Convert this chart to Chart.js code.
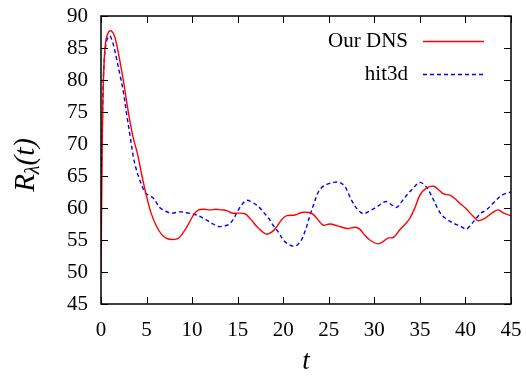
<!DOCTYPE html>
<html>
<head>
<meta charset="utf-8">
<script src="https://cdn.jsdelivr.net/npm/chart.js@4.4.0/dist/chart.umd.min.js"></script>
<style>
  html, body { margin: 0; padding: 0; background: #fff; }
  #wrap { width: 526px; height: 376px; }
</style>
</head>
<body>
<div id="wrap"><canvas id="chart" width="526" height="376"></canvas></div>
<script>
// series
const seriesLabels = ['Our DNS', 'hit3d'];

const tDns = [0, 0.1, 0.2, 0.35, 0.55, 0.8, 1.1, 1.5, 2.0, 2.5, 3.0, 3.5, 4.0, 4.5, 5.0, 5.5, 6.1, 6.7, 7.3, 8.1, 8.6,
    9.0, 9.6, 10.2, 10.7, 11.3, 12.0, 12.6, 13.2, 13.8, 14.4, 15.0, 15.8, 16.4, 17.1, 17.7, 18.2, 18.8, 19.3, 19.9, 20.4,
    21.3, 22.0, 22.8, 23.3, 23.9, 24.4, 25.1, 26.0, 27.0, 27.9, 28.4, 28.8, 29.5, 30.4, 31.0, 31.5, 32.1, 32.8, 33.4, 33.9,
    34.5, 35.0, 35.7, 36.5, 37.1, 37.6, 38.3, 38.9, 39.4, 40.0, 40.5, 41.0, 41.4, 42.15, 42.9, 43.6, 44.2, 45];
const rDns = [50, 65, 76, 83, 86.3, 87.4, 87.7, 86.8, 83.5, 79.5, 75, 71.2, 68.5, 65, 61.8, 59.2, 57.1, 55.8, 55.2, 55.1, 55.4,
    56.1, 57.5, 59.0, 59.7, 59.8, 59.7, 59.8, 59.7, 59.6, 59.2, 59.2, 59.1, 58.3, 57.1, 56.3, 55.9, 56.3, 57.1, 58.3, 58.8,
    58.9, 59.3, 59.3, 59.0, 58.0, 57.3, 57.5, 57.2, 56.8, 57.0, 56.7, 56.0, 55.0, 54.4, 54.8, 55.3, 55.4, 56.6, 57.5, 58.4,
    60.2, 62.0, 63.1, 63.4, 62.8, 62.2, 62.0, 61.4, 60.7, 60.0, 59.2, 58.5, 58.0, 58.4, 59.2, 59.7, 59.2, 58.8];

const tHit = [0, 0.1, 0.2, 0.35, 0.6, 0.95, 1.3, 1.7, 2.05, 2.45, 2.8, 3.2, 3.55, 3.9, 4.3, 4.8, 5.2, 5.7, 6.1, 6.5, 7.1,
    7.75, 8.7, 9.6, 10.5, 11.1, 11.6, 12.3, 12.9, 13.5, 14.0, 14.5, 15.0, 15.5, 16.0, 16.7, 17.3, 17.8, 18.4, 18.9, 19.5,
    20.0, 20.6, 21.2, 21.6, 22.0, 22.5, 22.9, 23.4, 23.85, 24.3, 24.8, 25.5, 26.2, 26.8, 27.2, 27.7, 28.2, 28.8, 29.2, 29.7,
    30.4, 30.9, 31.35, 31.9, 32.45, 33.0, 33.55, 34.2, 35.0, 35.7, 36.1, 36.5, 37.0, 37.4, 38.0, 38.7, 39.4, 40.1, 40.6, 41.2,
    41.7, 42.3, 43.0, 43.8, 44.3, 45];
const rHit = [62, 70, 77, 83, 86, 86.9, 85.8, 83.4, 81.0, 78.2, 74.8, 71.2, 68.0, 65.9, 64.2, 62.5, 62.0, 61.6, 60.8, 60.0, 59.5,
    59.2, 59.4, 59.2, 58.9, 58.5, 58.1, 57.5, 57.1, 57.2, 57.4, 58.2, 59.5, 60.6, 61.2, 60.8, 60.2, 59.4, 58.4, 57.3, 56.2,
    55.0, 54.3, 54.0, 54.3, 55.0, 56.8, 58.7, 60.8, 62.5, 63.3, 63.7, 64.0, 64.0, 63.3, 62.1, 60.7, 59.7, 59.1, 59.3, 59.7,
    60.3, 60.8, 61.0, 60.5, 60.1, 61.0, 62.0, 63.0, 64.0, 63.3, 62.4, 61.25, 59.8, 58.9, 58.2, 57.6, 57.2, 56.7, 57.4, 58.4,
    59.2, 59.7, 60.7, 61.8, 62.2, 62.5];

const xTicks = [0, 5, 10, 15, 20, 25, 30, 35, 40, 45];
const yTicks = [45, 50, 55, 60, 65, 70, 75, 80, 85, 90];

const toPoints = (xs, ys) => xs.map((x, i) => ({ x: x, y: ys[i] }));

const serif = "'Liberation Serif', serif";
Chart.defaults.font.family = serif;
Chart.defaults.color = '#000';

// frame, inward ticks, legend and axis titles in the gnuplot look
const framePlugin = {
    id: 'frame',
    afterDraw(chart) {
        const ctx = chart.ctx;
        const a = chart.chartArea;
        const xs = chart.scales.x;
        const ys = chart.scales.y;
        const tick = 7;
        ctx.save();
        ctx.strokeStyle = '#000';
        ctx.lineWidth = 1.5;
        ctx.strokeRect(a.left, a.top, a.right - a.left, a.bottom - a.top);

        ctx.lineWidth = 1;
        ctx.beginPath();
        xTicks.forEach(v => {
            const px = Math.round(xs.getPixelForValue(v)) + 0.5;
            ctx.moveTo(px, a.bottom); ctx.lineTo(px, a.bottom - tick);
            ctx.moveTo(px, a.top); ctx.lineTo(px, a.top + tick);
        });
        yTicks.forEach(v => {
            const py = Math.round(ys.getPixelForValue(v)) + 0.5;
            ctx.moveTo(a.left, py); ctx.lineTo(a.left + tick, py);
            ctx.moveTo(a.right, py); ctx.lineTo(a.right - tick, py);
        });
        ctx.stroke();

        // legend
        ctx.font = '21px ' + serif;
        ctx.fillStyle = '#000';
        ctx.textAlign = 'right';
        ctx.textBaseline = 'middle';
        const legendY = [41, 74];
        chart.data.datasets.forEach((ds, i) => {
            const y = legendY[i];
            ctx.fillText(ds.label, 408, y);
            ctx.strokeStyle = ds.borderColor;
            ctx.lineWidth = ds.borderWidth;
            ctx.setLineDash(ds.borderDash || []);
            ctx.beginPath();
            ctx.moveTo(423, y + 0.5);
            ctx.lineTo(484, y + 0.5);
            ctx.stroke();
        });
        ctx.setLineDash([]);

        // x title
        ctx.fillStyle = '#000';
        ctx.textAlign = 'center';
        ctx.textBaseline = 'middle';
        ctx.font = 'italic 27px ' + serif;
        ctx.fillText('t', (a.left + a.right) / 2, 362);

        // y title R_lambda(t)
        ctx.save();
        ctx.translate(24, (a.top + a.bottom) / 2 + 5);
        ctx.rotate(-Math.PI / 2);
        ctx.textAlign = 'left';
        ctx.textBaseline = 'alphabetic';
        const big = 'italic 29px ' + serif;
        const small = 'italic 20px ' + serif;
        ctx.font = big;
        const wR = ctx.measureText('R').width;
        const wP = ctx.measureText('(t)').width;
        ctx.font = small;
        const wL = ctx.measureText('λ').width;
        let x0 = -(wR + wL + wP) / 2;
        const base = 10;
        ctx.font = big;
        ctx.fillText('R', x0, base);
        x0 += wR;
        ctx.font = small;
        ctx.fillText('λ', x0, base + 5);
        x0 += wL;
        ctx.font = big;
        ctx.fillText('(t)', x0, base);
        ctx.restore();

        ctx.restore();
    }
};

new Chart(document.getElementById('chart').getContext('2d'), {
    type: 'line',
    data: {
        datasets: [{
            label: seriesLabels[0],
            data: toPoints(tDns, rDns),
            borderColor: '#ff0000',
            borderWidth: 1.4,
            pointRadius: 0,
            tension: 0.35,
            fill: false
        }, {
            label: seriesLabels[1],
            data: toPoints(tHit, rHit),
            borderColor: '#0000ff',
            borderWidth: 1.4,
            borderDash: [4, 3],
            pointRadius: 0,
            tension: 0.35,
            fill: false
        }]
    },
    options: {
        responsive: false,
        animation: false,
        devicePixelRatio: 1,
        layout: { padding: { top: 16, right: 15, left: 0, bottom: 0 } },
        plugins: {
            legend: { display: false },
            tooltip: { enabled: false }
        },
        scales: {
            x: {
                type: 'linear',
                min: 0,
                max: 45,
                afterBuildTicks: (scale) => { scale.ticks = xTicks.map(v => ({ value: v })); },
                afterFit: (scale) => {
                    scale.height = 72;
                    scale.paddingLeft = 0;
                    scale.paddingRight = 0;
                },
                grid: { display: false, drawTicks: false },
                border: { display: false },
                ticks: {
                    color: '#000',
                    font: { family: serif, size: 21 },
                    padding: 14,
                    maxRotation: 0
                }
            },
            y: {
                type: 'linear',
                min: 45,
                max: 90,
                afterBuildTicks: (scale) => { scale.ticks = yTicks.map(v => ({ value: v })); },
                afterFit: (scale) => {
                    scale.width = 101;
                    scale.paddingTop = 0;
                    scale.paddingBottom = 0;
                },
                grid: { display: false, drawTicks: false },
                border: { display: false },
                ticks: {
                    color: '#000',
                    font: { family: serif, size: 21 },
                    padding: 13
                }
            }
        }
    },
    plugins: [framePlugin]
});
</script>
</body>
</html>
